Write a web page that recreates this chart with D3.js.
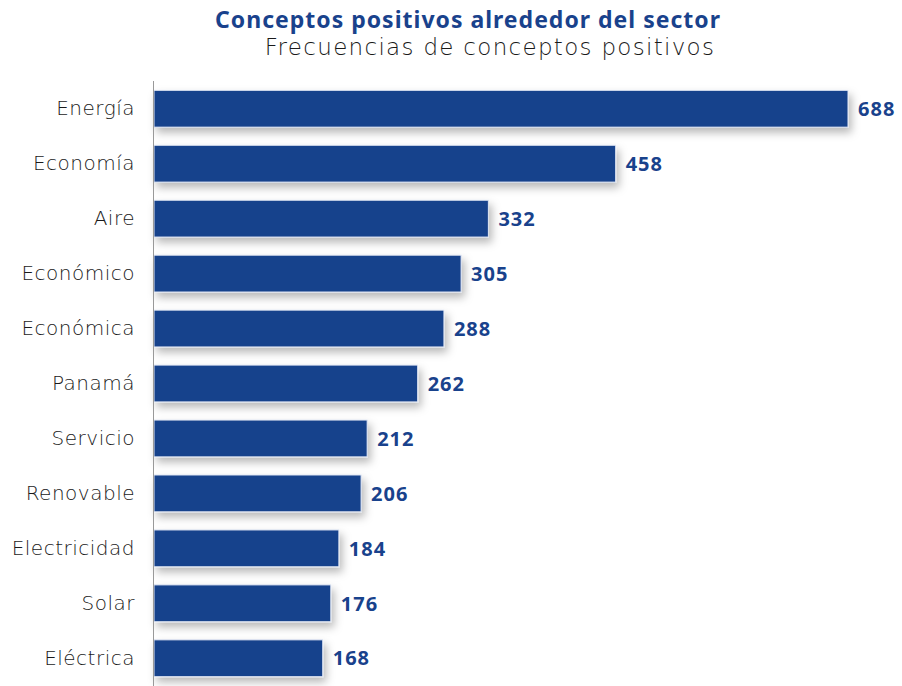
<!DOCTYPE html>
<html>
<head>
<meta charset="utf-8">
<script src="https://cdn.jsdelivr.net/npm/d3@7"></script>
<style>
  body { margin: 0; background: #fff; }
  text { font-family: "Noto Sans", "Open Sans", sans-serif; }
</style>
</head>
<body>
<div class="canvas"></div>
<script>
// data
const categories = ['Energía', 'Economía', 'Aire', 'Económico', 'Económica', 'Panamá',
                    'Servicio', 'Renovable', 'Electricidad', 'Solar', 'Eléctrica'];
const frequencies = [688, 458, 332, 305, 288, 262, 212, 206, 184, 176, 168];

const width = 902, height = 686;
const margin = {top: 81, right: 54, bottom: 0, left: 153};
const graphWidth = width - margin.left - margin.right;
const graphHeight = height - margin.top - margin.bottom;
const blue = '#19428c';
const lightFont = '"DejaVu Sans", "Noto Sans", sans-serif';

const svg = d3.select('.canvas')
  .append('svg')
  .attr('width', width)
  .attr('height', height);

// shadow behind bars
const defs = svg.append('defs');
const filter = defs.append('filter').attr('id', 'shadow')
  .attr('x', '-10%').attr('y', '-40%').attr('width', '130%').attr('height', '200%');
filter.append('feDropShadow')
  .attr('dx', 3).attr('dy', 5).attr('stdDeviation', 4)
  .attr('flood-color', '#000').attr('flood-opacity', 0.28);

// titles
svg.append('text')
  .attr('x', 468).attr('y', 28)
  .attr('text-anchor', 'middle')
  .attr('font-size', 23).attr('font-weight', 'bold')
  .attr('letter-spacing', 1)
  .attr('fill', blue)
  .text('Conceptos positivos alrededor del sector');
svg.append('text')
  .attr('x', 490).attr('y', 55)
  .attr('text-anchor', 'middle')
  .attr('font-size', 23).attr('font-weight', 200)
  .attr('letter-spacing', 1.3)
  .attr('fill', '#1a1a1a')
  .style('font-family', lightFont)
  .text('Frecuencias de conceptos positivos');

const graph = svg.append('g')
  .attr('transform', `translate(${margin.left}, ${margin.top})`);

const x = d3.scaleLinear()
  .domain([0, d3.max(frequencies)])
  .range([0, graphWidth]);

const y = d3.scaleBand()
  .domain(categories)
  .range([0, graphHeight])
  .paddingInner(0.33)
  .paddingOuter(0.17);

const data = categories.map((c, i) => ({name: c, value: frequencies[i]}));

graph.selectAll('rect.bar')
  .data(data)
  .enter()
  .append('rect')
  .attr('class', 'bar')
  .attr('x', 1)
  .attr('y', d => y(d.name))
  .attr('width', d => x(d.value) - 1)
  .attr('height', y.bandwidth())
  .attr('fill', blue)
  .attr('stroke', '#dfe6f3')
  .attr('stroke-width', 1)
  .attr('filter', 'url(#shadow)');

// value labels
graph.selectAll('text.val')
  .data(data)
  .enter()
  .append('text')
  .attr('class', 'val')
  .attr('x', d => x(d.value) + 10)
  .attr('y', d => y(d.name) + y.bandwidth() / 2)
  .attr('dy', '0.36em')
  .attr('font-size', 20).attr('font-weight', 'bold')
  .attr('letter-spacing', 1)
  .attr('fill', blue)
  .text(d => d.value);

// category axis
const yAxis = d3.axisLeft(y).tickSize(0).tickPadding(18);
const yAxisGroup = graph.append('g').call(yAxis);
yAxisGroup.select('.domain').attr('stroke', '#999').attr('d', `M0.5,0V${graphHeight}`);
yAxisGroup.selectAll('text')
  .attr('font-size', 20)
  .attr('font-weight', 200)
  .attr('letter-spacing', 0.5)
  .attr('fill', '#1a1a1a')
  .style('font-family', lightFont);
</script>
</body>
</html>
